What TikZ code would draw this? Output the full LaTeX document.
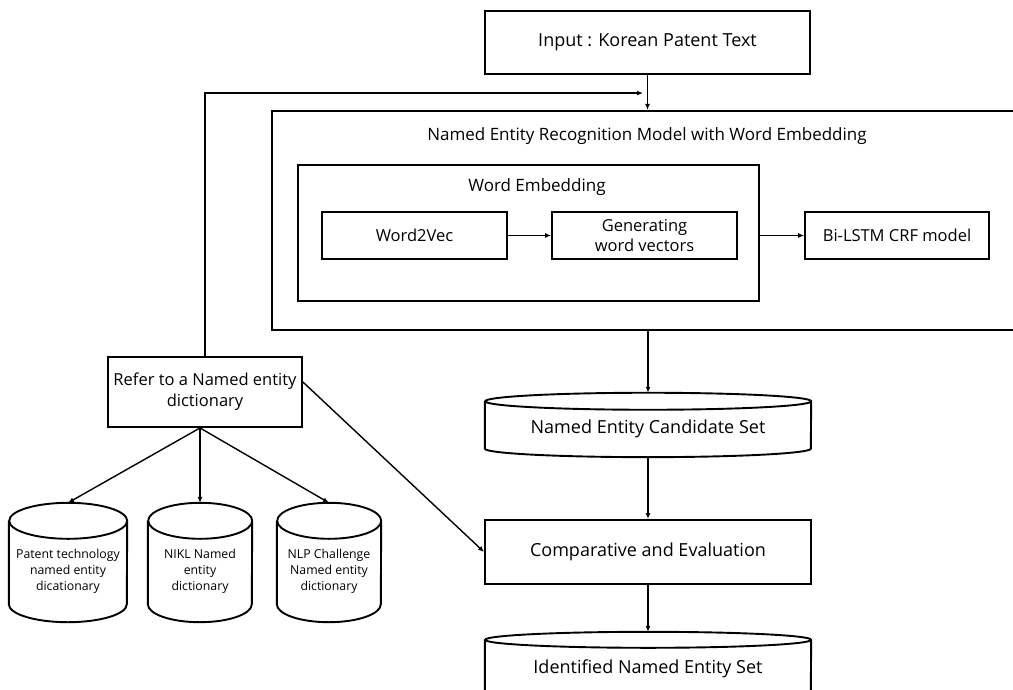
\documentclass[tikz,border=0pt]{standalone}
\usepackage{fontspec}
\setmainfont{Open Sans}
\usetikzlibrary{arrows.meta}
\begin{document}
\begin{tikzpicture}[x=1pt,y=-1pt,
  boxline/.style={line width=1.9pt},
  box/.style={draw, boxline, rectangle, inner sep=0pt, align=center},
  cylnode/.style={inner sep=0pt, align=center},
  bigtext/.style={font=\fontsize{18}{22}\selectfont},
  midtext/.style={font=\fontsize{16.5}{20}\selectfont},
  smalltext/.style={font=\fontsize{12.3}{16}\selectfont},
  arr/.style={line width=1.7pt, -{Latex[length=6pt,width=5pt]}},
  ]
\useasboundingbox (0,0) rectangle (1013,689);

% main column
\node[box, bigtext, minimum width=325pt, minimum height=63pt] (input) at (647.5,42.5) {Input : Korean Patent Text};
\node[box, line width=2.1pt, minimum width=768pt, minimum height=219pt] (ner) at (656,220.5) {};
\node[font=\fontsize{17}{20}\selectfont] (nertitle) at (647,136) {Named Entity Recognition Model with Word Embedding};
\node[box, line width=1.6pt, minimum width=461pt, minimum height=136pt] (we) at (528.5,233) {};
\node[font=\fontsize{17}{20}\selectfont] (wetitle) at (537,187) {Word Embedding};
\node[box, line width=1.6pt, midtext, minimum width=185pt, minimum height=47pt] (w2v) at (414.5,235.5) {Word2Vec};
\node[box, line width=1.6pt, midtext, minimum width=185pt, minimum height=47pt] (gen) at (644.5,235.5) {Generating\\word vectors};
\node[box, line width=1.6pt, midtext, minimum width=184pt, minimum height=47pt] (bilstm) at (897,235.5) {Bi-LSTM CRF model};

\node[cylnode, bigtext, minimum width=326pt, minimum height=55.5pt] (cand) at (648,429.2) {Named Entity Candidate Set};
\node[box, bigtext, minimum width=326pt, minimum height=64pt] (comp) at (648,552) {Comparative and Evaluation};
\node[cylnode, bigtext, minimum width=326pt, minimum height=58pt] (ident) at (648,669) {Identified Named Entity Set};

% left side
\node[box, font=\fontsize{16.5}{21}\selectfont, minimum width=194pt, minimum height=70pt] (refer) at (205,392) {Refer to a Named entity\\dictionary};
\node[cylnode, smalltext, minimum width=118pt, minimum height=101pt] (c1) at (68,571.5) {Patent technology\\named entity\\dicationary};
\node[cylnode, smalltext, minimum width=104pt, minimum height=101pt] (c2) at (200,571.5) {NIKL Named\\entity\\dictionary};
\node[cylnode, smalltext, minimum width=104pt, minimum height=101pt] (c3) at (329,571.5) {NLP Challenge\\Named entity\\dictionary};

% cylinder outlines
\foreach \n/\rx/\ry in {c1/59/18, c2/52/18, c3/52/18, cand/163/8.5, ident/163/8}{
  \draw[boxline] (\n.north west) -- ([yshift=\ry pt]\n.south west)
     arc[start angle=180, end angle=360, x radius=\rx pt, y radius=\ry pt]
     -- (\n.north east)
     arc[start angle=0, end angle=360, x radius=\rx pt, y radius=\ry pt];
}

% connectors
\coordinate (fb) at (643,93);
\draw[arr] (input.south) -- (input.south |- ner.north);
\draw[arr] (refer.north) |- (fb);
\draw[arr, line width=1.4pt] (w2v.east) -- (gen.west);
\draw[arr, line width=1.4pt] (we.east |- bilstm.west) -- (bilstm.west);
\draw[arr] (cand.north |- ner.south) -- ([yshift=8.5pt]cand.north);
\draw[arr] (cand.south) -- (comp.north);
\draw[arr] (comp.south) -- ([yshift=8pt]ident.north);
\draw[arr, line width=1.4pt] ([yshift=-26pt]refer.north east) -- (comp.west);
\draw[arr, line width=1.4pt] ([xshift=-5pt]refer.south) -- ([yshift=18pt]c1.north);
\draw[arr, line width=1.4pt] ([xshift=-5pt]refer.south) -- ([yshift=18pt]c2.north);
\draw[arr, line width=1.4pt] ([xshift=-5pt]refer.south) -- ([yshift=18pt]c3.north);
\end{tikzpicture}
\end{document}
